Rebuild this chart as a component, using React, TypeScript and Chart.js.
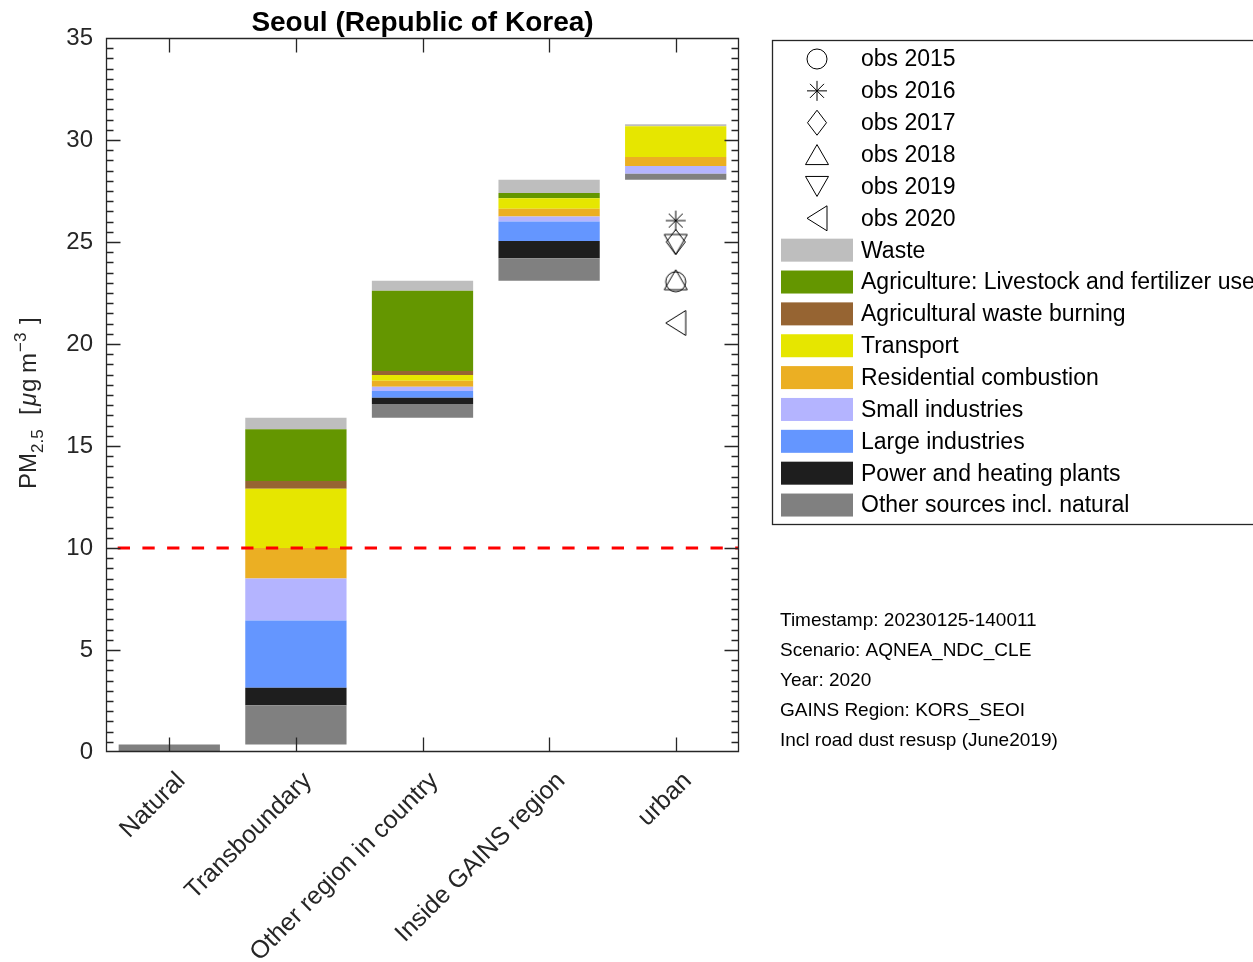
import React, { useEffect, useRef } from "react";
import { Chart, registerables } from "chart.js";

Chart.register(...registerables);

const FONT = '"Liberation Sans", Arial, Helvetica, sans-serif';
const AXIS = "#262626";

// Source-contribution categories (x axis)
const categories = ["Natural", "Transboundary", "Other region in country", "Inside GAINS region", "urban"];

// PM2.5 contributions per source, µg/m³, one value per category (bottom of stack first)
const otherSources = [0.37, 1.92, 0.67, 1.1, 0.3];
const powerPlants = [0, 0.86, 0.31, 0.85, 0];
const largeIndustries = [0, 3.3, 0.33, 0.95, 0];
const smallIndustries = [0, 2.05, 0.21, 0.25, 0.37];
const residential = [0, 1.5, 0.29, 0.38, 0.45];
const transport = [0, 2.9, 0.28, 0.52, 1.5];
const agriWasteBurning = [0, 0.38, 0.2, 0, 0];
const agriculture = [0, 2.54, 3.93, 0.25, 0];
const waste = [0, 0.57, 0.49, 0.65, 0.1];

const sourceLabels = [
  "Other sources incl. natural",
  "Power and heating plants",
  "Large industries",
  "Small industries",
  "Residential combustion",
  "Transport",
  "Agricultural waste burning",
  "Agriculture: Livestock and fertilizer use",
  "Waste",
];
const sourceColors = ["#808080", "#1e1e1e", "#6496ff", "#b4b4ff", "#ebaf23", "#e6e600", "#966432", "#649600", "#bebebe"];
const sourceSeries = [
  otherSources,
  powerPlants,
  largeIndustries,
  smallIndustries,
  residential,
  transport,
  agriWasteBurning,
  agriculture,
  waste,
];

// Observed annual means at the urban station
const obsLabels = ["obs 2015", "obs 2016", "obs 2017", "obs 2018", "obs 2019", "obs 2020"];
const obsValues = [23.05, 26.05, 25.0, 23.15, 24.88, 21.03];
const obsShapes = ["circle", "asterisk", "diamond", "triangleUp", "triangleDown", "triangleLeft"];
const obsCategory = "urban";

const GUIDELINE = 10;
const Y_MAX = 35;

const infoLines = [
  "Timestamp: 20230125-140011",
  "Scenario: AQNEA_NDC_CLE",
  "Year: 2020",
  "GAINS Region: KORS_SEOI",
  "Incl road dust resusp (June2019)",
];

// Each category's stack starts where the previous one ended (cumulative build-up)
function buildFloating(): ([number, number] | null)[][] {
  const out = sourceSeries.map(() => [] as ([number, number] | null)[]);
  let base = 0;
  categories.forEach((_, i) => {
    sourceSeries.forEach((series, k) => {
      const v = series[i];
      out[k].push(v > 0 ? [base, base + v] : null);
      base += v;
    });
  });
  return out;
}

function drawMarker(ctx: CanvasRenderingContext2D, shape: string, x: number, y: number) {
  ctx.save();
  ctx.strokeStyle = "#000";
  ctx.lineWidth = 1;
  ctx.beginPath();
  switch (shape) {
    case "circle":
      ctx.arc(x, y, 10, 0, Math.PI * 2);
      break;
    case "asterisk":
      ctx.moveTo(x, y - 10);
      ctx.lineTo(x, y + 10);
      ctx.moveTo(x - 10, y);
      ctx.lineTo(x + 10, y);
      ctx.moveTo(x - 7, y - 7);
      ctx.lineTo(x + 7, y + 7);
      ctx.moveTo(x - 7, y + 7);
      ctx.lineTo(x + 7, y - 7);
      break;
    case "diamond":
      ctx.moveTo(x, y - 12.5);
      ctx.lineTo(x + 9.5, y);
      ctx.lineTo(x, y + 12.5);
      ctx.lineTo(x - 9.5, y);
      ctx.closePath();
      break;
    case "triangleUp":
      ctx.moveTo(x, y - 10);
      ctx.lineTo(x + 11.5, y + 10);
      ctx.lineTo(x - 11.5, y + 10);
      ctx.closePath();
      break;
    case "triangleDown":
      ctx.moveTo(x, y + 10);
      ctx.lineTo(x + 11.5, y - 10);
      ctx.lineTo(x - 11.5, y - 10);
      ctx.closePath();
      break;
    case "triangleLeft":
      ctx.moveTo(x - 10, y);
      ctx.lineTo(x + 10, y - 12.5);
      ctx.lineTo(x + 10, y + 12.5);
      ctx.closePath();
      break;
  }
  ctx.stroke();
  ctx.restore();
}

function markerCanvas(shape: string): HTMLCanvasElement {
  const c = document.createElement("canvas");
  c.width = 32;
  c.height = 32;
  const g = c.getContext("2d")!;
  drawMarker(g, shape, 16, 16);
  return c;
}

function drawYTitle(ctx: CanvasRenderingContext2D) {
  const main = `24px ${FONT}`;
  const script = `17px ${FONT}`;
  const ital = `italic 24px ${FONT}`;
  // [text, font, baseline shift, offset along the axis]
  const pieces: [string, string, number, number][] = [
    ["PM", main, 0, 0],
    ["2.5", script, 7, 36],
    ["[", main, 0, 74],
    ["\u03bc", ital, 0, 83],
    ["g", main, 0, 97],
    ["m", main, 0, 116],
    ["\u22123", script, -10, 137],
    ["]", main, 0, 165],
  ];
  ctx.save();
  ctx.translate(36, 489);
  ctx.rotate(-Math.PI / 2);
  ctx.fillStyle = AXIS;
  ctx.textAlign = "left";
  ctx.textBaseline = "alphabetic";
  pieces.forEach(([t, f, dy, dx]) => {
    ctx.font = f;
    ctx.fillText(t, dx, dy);
  });
  ctx.restore();
}

const decorPlugin = {
  id: "decor",
  beforeDraw(chart: any) {
    const { ctx, width, height } = chart;
    ctx.save();
    ctx.fillStyle = "#fff";
    ctx.fillRect(0, 0, width, height);
    ctx.restore();
  },
  afterDatasetsDraw(chart: any) {
    const { ctx, chartArea: a, scales } = chart;
    const xs = scales.x;
    const ys = scales.y;

    // guideline
    const gy = ys.getPixelForValue(GUIDELINE);
    ctx.save();
    ctx.strokeStyle = "#ff0000";
    ctx.lineWidth = 3;
    ctx.setLineDash([12.3, 12.4]);
    ctx.lineDashOffset = 13;
    ctx.beginPath();
    ctx.moveTo(a.left, gy);
    ctx.lineTo(a.right, gy);
    ctx.stroke();
    ctx.restore();

    // axes box with inward ticks
    const L = Math.round(a.left) + 0.5;
    const R = Math.round(a.right) - 0.5;
    const T = Math.round(a.top) + 0.5;
    const B = Math.round(a.bottom) - 0.5;
    ctx.save();
    ctx.strokeStyle = AXIS;
    ctx.lineWidth = 1.3;
    ctx.beginPath();
    ctx.rect(L, T, R - L, B - T);
    for (let k = 1; k < Y_MAX * 2; k++) {
      const v = k / 2;
      const py = Math.round(ys.getPixelForValue(v)) + 0.5;
      const len = k % 10 === 0 ? 14 : 7;
      ctx.moveTo(L, py);
      ctx.lineTo(L + len, py);
      ctx.moveTo(R, py);
      ctx.lineTo(R - len, py);
    }
    categories.forEach((_, i) => {
      const px = Math.round(xs.getPixelForValue(i)) + 0.5;
      ctx.moveTo(px, B);
      ctx.lineTo(px, B - 14);
      ctx.moveTo(px, T);
      ctx.lineTo(px, T + 14);
    });
    ctx.stroke();
    ctx.restore();

    // rotated category labels
    ctx.save();
    ctx.fillStyle = AXIS;
    ctx.font = `25px ${FONT}`;
    ctx.textAlign = "right";
    ctx.textBaseline = "middle";
    categories.forEach((c, i) => {
      const px = xs.getPixelForValue(i);
      ctx.save();
      ctx.translate(px + 12, a.bottom + 25);
      ctx.rotate(-Math.PI / 4);
      ctx.fillText(c, 0, 0);
      ctx.restore();
    });
    ctx.restore();

    // title
    ctx.save();
    ctx.fillStyle = "#000";
    ctx.font = `bold 28px ${FONT}`;
    ctx.textAlign = "center";
    ctx.textBaseline = "alphabetic";
    ctx.fillText("Seoul (Republic of Korea)", (a.left + a.right) / 2, 31);
    ctx.restore();

    drawYTitle(ctx);

    // legend
    const lx = 772;
    const ly = 40;
    const rowH = 31.86;
    const row0 = 59;
    ctx.save();
    ctx.strokeStyle = AXIS;
    ctx.lineWidth = 1.3;
    ctx.strokeRect(lx + 0.5, ly + 0.5, 600, 484);
    ctx.font = `23px ${FONT}`;
    ctx.fillStyle = "#000";
    ctx.textAlign = "left";
    ctx.textBaseline = "middle";
    let row = 0;
    obsLabels.forEach((label, i) => {
      const cy = row0 + rowH * row;
      drawMarker(ctx, obsShapes[i], 817, cy);
      ctx.fillStyle = "#000";
      ctx.fillText(label, 861, cy + 1);
      row++;
    });
    for (let k = sourceLabels.length - 1; k >= 0; k--) {
      const cy = row0 + rowH * row;
      ctx.fillStyle = sourceColors[k];
      ctx.fillRect(781, cy - 11.5, 72, 23);
      ctx.fillStyle = "#000";
      ctx.fillText(sourceLabels[k], 861, cy + 1);
      row++;
    }
    ctx.restore();

    // run information
    ctx.save();
    ctx.font = `19px ${FONT}`;
    ctx.fillStyle = "#000";
    ctx.textAlign = "left";
    ctx.textBaseline = "middle";
    infoLines.forEach((t, i) => ctx.fillText(t, 780, 621 + 30 * i));
    ctx.restore();
  },
};

export default function App() {
  const ref = useRef<HTMLCanvasElement>(null);

  useEffect(() => {
    document.body.style.margin = "0";
    const floating = buildFloating();
    const obsIndex = categories.indexOf(obsCategory);

    const markerSets = obsLabels.map((label, i) => ({
      type: "line" as const,
      label,
      data: categories.map((_, j) => (j === obsIndex ? obsValues[i] : null)),
      showLine: false,
      pointStyle: markerCanvas(obsShapes[i]),
      pointRadius: 10,
      order: 0,
    }));

    const barSets = sourceLabels.map((label, k) => ({
      type: "bar" as const,
      label,
      data: floating[k],
      backgroundColor: sourceColors[k],
      borderWidth: 0,
      grouped: false,
      barPercentage: 0.8,
      categoryPercentage: 1,
      order: 1,
    }));

    const chart = new Chart(ref.current!, {
      type: "bar",
      data: { labels: categories, datasets: [...markerSets, ...barSets] as any },
      options: {
        responsive: false,
        animation: false,
        events: [],
        layout: { padding: { top: 38, right: 514, bottom: 0, left: 0 } },
        plugins: { legend: { display: false }, title: { display: false }, tooltip: { enabled: false } },
        scales: {
          x: {
            type: "category",
            offset: true,
            grid: { display: false, drawTicks: false },
            border: { display: false },
            ticks: { display: false },
            afterFit: (s: any) => {
              s.height = 210;
            },
          },
          y: {
            min: 0,
            max: Y_MAX,
            grid: { display: false, drawTicks: false },
            border: { display: false },
            ticks: { stepSize: 5, color: AXIS, padding: 13, font: { size: 24, family: FONT } },
            afterFit: (s: any) => {
              s.width = 106;
            },
          },
        },
      },
      plugins: [decorPlugin],
    });
    return () => chart.destroy();
  }, []);

  return (
    <div style={{ width: 1253, height: 962, background: "#fff" }}>
      <canvas ref={ref} width={1253} height={962} style={{ display: "block" }} />
    </div>
  );
}
